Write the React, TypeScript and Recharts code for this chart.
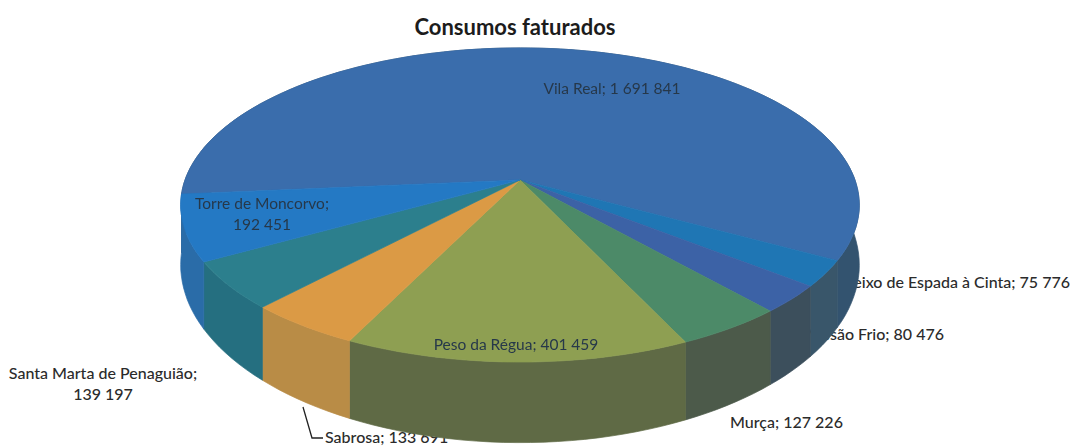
import { PieChart, Pie, Cell } from "recharts";

// Slices clockwise, starting where Vila Real starts on the left of the pie
const names = [
  "Vila Real",
  "Freixo de Espada à Cinta",
  "Mesão Frio",
  "Murça",
  "Peso da Régua",
  "Sabrosa",
  "Santa Marta de Penaguião",
  "Torre de Moncorvo",
];
const values = [1691841, 75776, 80476, 127226, 401459, 133691, 139197, 192451];

const topColors = ["#3a6dac", "#1f76b4", "#3c62a6", "#4c8a68", "#8e9f52", "#db9a45", "#2c7f8d", "#2479c4"];
const wallColors = ["#33536f", "#39566a", "#3c4f5c", "#4c5a4a", "#5f6a45", "#b98c46", "#256f80", "#2a6ca8"];

const data = names.map((name, i) => ({ name, value: values[i] }));

// Label placement
const labelSpots = [
  { x: 612, y: 94, anchor: "middle", inside: true },
  { x: 1070, y: 288, anchor: "end" },
  { x: 944, y: 340, anchor: "end" },
  { x: 730, y: 428, anchor: "start" },
  { x: 516, y: 350, anchor: "middle", inside: true },
  { x: 325, y: 443, anchor: "start", leader: "M303 407 L312 438 L323 438" },
  { x: 103, y: 379, anchor: "middle", wrap: true },
  { x: 262, y: 209, anchor: "middle", inside: true, wrap: true },
];

// Fake 3D projection of the flat pie
const SQUASH = 0.457;
const PERSP = 0.159;
const DEPTH = 57;

const project = (cx: number, cy: number, r: number, deg: number, depth: number) => {
  const a = (deg * Math.PI) / 180;
  const u = Math.cos(a);
  const v = -Math.sin(a);
  const w = 1 / (1 - PERSP * v);
  return [cx + r * u * w, cy + r * SQUASH * v * w + depth * w * w];
};

const arc = (p: any, depth: number) => {
  const pts = [];
  const steps = Math.max(2, Math.ceil(Math.abs(p.endAngle - p.startAngle) / 2));
  for (let i = 0; i <= steps; i++) {
    const deg = p.startAngle + ((p.endAngle - p.startAngle) * i) / steps;
    pts.push(project(p.cx, p.cy, p.outerRadius, deg, depth));
  }
  return pts;
};

const toPath = (pts: number[][]) => "M" + pts.map((q) => q[0].toFixed(1) + " " + q[1].toFixed(1)).join(" L") + " Z";

const TopFace = (p: any) => (
  <path d={toPath([[p.cx, p.cy], ...arc(p, 0)])} fill={p.fill} stroke={p.fill} strokeWidth={0.7} />
);

const WallFace = (p: any) => (
  <path d={toPath([...arc(p, 0), ...arc(p, DEPTH).reverse()])} fill={p.fill} stroke={p.fill} strokeWidth={0.7} />
);

const formatValue = (n: number) => String(n).replace(/\B(?=(\d{3})+$)/g, " ");

const drawLabel = (index: number) => {
  const spot = labelSpots[index];
  const insideOne = !!spot.inside;
  const style = {
    fontFamily: "Lato, sans-serif",
    fontSize: insideOne ? 15.5 : 16,
    fontWeight: insideOne ? 400 : 500,
    fill: insideOne ? "#26384a" : "#2b2b2b",
  };
  const num = formatValue(values[index]);
  return (
    <g key={names[index]} filter={insideOne ? "url(#scanBlur)" : undefined}>
      {spot.leader && <path d={spot.leader} fill="none" stroke="#222" strokeWidth={1.3} />}
      {spot.wrap ? (
        <text x={spot.x} y={spot.y} textAnchor={spot.anchor} style={style}>
          <tspan x={spot.x}>{names[index]};</tspan>
          <tspan x={spot.x} dy={21}>{num}</tspan>
        </text>
      ) : (
        <text x={spot.x} y={spot.y} textAnchor={spot.anchor} style={style}>
          {names[index]}; {num}
        </text>
      )}
    </g>
  );
};

const pieProps = {
  data,
  dataKey: "value",
  nameKey: "name",
  cx: 520,
  cy: 180,
  outerRadius: 335,
  startAngle: 185.2,
  endAngle: -174.8,
  stroke: "none",
  isAnimationActive: false,
};

const outerIdx = names.map((_, i) => i).filter((i) => !labelSpots[i].inside);

export default function App() {
  return (
    <div style={{ position: "absolute", left: 0, top: 0, width: 1075, height: 446, background: "#fff" }}>
      <PieChart width={1075} height={446} margin={{ top: 0, right: 0, bottom: 0, left: 0 }}>
        <defs>
          <filter id="scanBlur">
            <feGaussianBlur stdDeviation="0.5" />
          </filter>
        </defs>
        <text x={515} y={35} textAnchor="middle" style={{ fontFamily: "Lato, sans-serif", fontSize: 22, fontWeight: 700, fill: "#1c1c1c" }}>
          Consumos faturados
        </text>
        {/* outer labels go first, the pie wall covers part of them like in the scan */}
        {outerIdx.map(drawLabel)}
        <Pie {...pieProps} shape={WallFace} label={false}>
          {names.map((n, i) => (
            <Cell key={n} fill={wallColors[i]} />
          ))}
        </Pie>
        <Pie
          {...pieProps}
          shape={TopFace}
          labelLine={false}
          label={(p: any) => (labelSpots[p.index].inside ? drawLabel(p.index) : <g key={p.index} />)}
        >
          {names.map((n, i) => (
            <Cell key={n} fill={topColors[i]} />
          ))}
        </Pie>
      </PieChart>
    </div>
  );
}
